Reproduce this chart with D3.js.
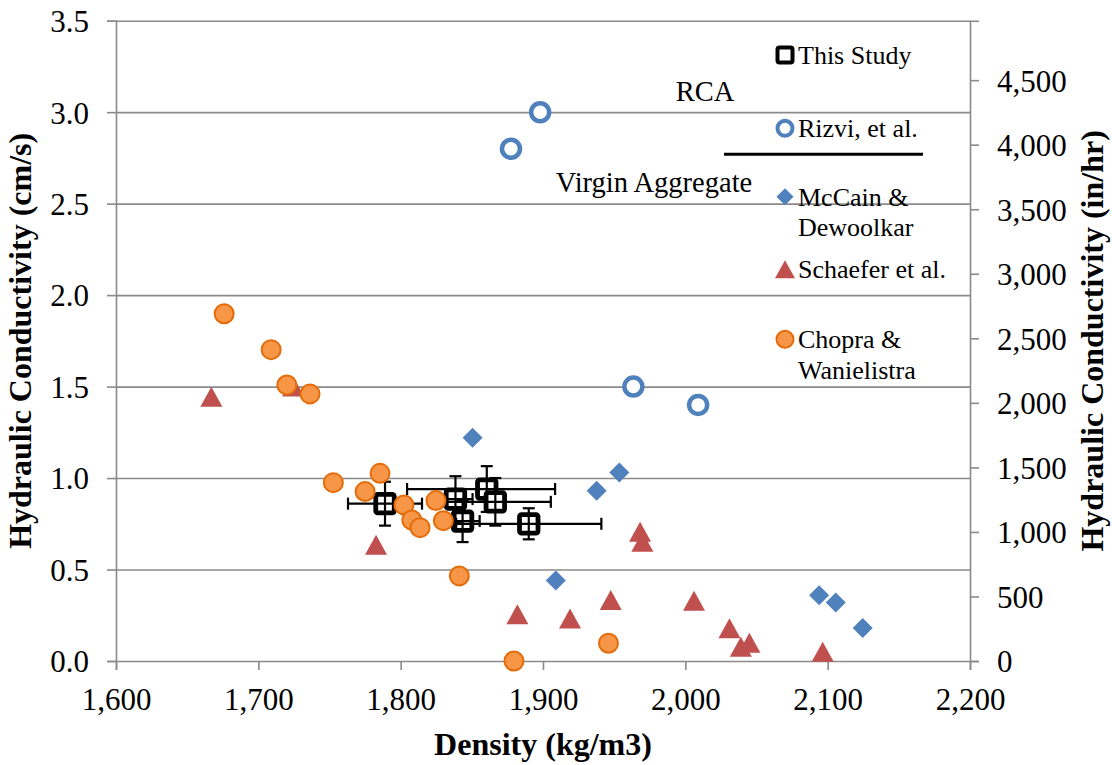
<!DOCTYPE html>
<html><head><meta charset="utf-8">
<script src="https://cdn.jsdelivr.net/npm/d3@7"></script>
<style>
body{margin:0;background:#fff}
text{font-family:"Liberation Serif","Times New Roman",serif;fill:#000}
</style>
</head><body>
<svg id="chart" width="1112" height="765"></svg>
<script>
// ---------- data ----------
const xTicks = [1600, 1700, 1800, 1900, 2000, 2100, 2200];
const yLeftTicks = [0, 0.5, 1.0, 1.5, 2.0, 2.5, 3.0, 3.5];
const yRightTicks = [0, 500, 1000, 1500, 2000, 2500, 3000, 3500, 4000, 4500];

const studyDensity = [1789, 1838.5, 1860.5, 1866.5, 1843.5, 1890];
const studyK       = [0.86, 0.885, 0.94, 0.87, 0.765, 0.75];
const studyXErrMinus = [26, 12, 56, 39, 12, 51];
const studyXErrPlus  = [26, 12, 48, 39, 12, 51];
const studyYErr      = [0.12, 0.125, 0.125, 0.13, 0.115, 0.085];

const rizviDensity = [1877.5, 1898, 1963.5, 2009];
const rizviK       = [2.80, 3.00, 1.50, 1.40];

const mccainDensity = [1850.5, 1937.7, 1953.6, 1909, 2094, 2105.7, 2124.6];
const mccainK       = [1.22, 0.93, 1.03, 0.44, 0.36, 0.32, 0.18];

const schaeferDensity = [1667, 1724.5, 1782.7, 1882, 1919, 1947.6, 1968.2, 1969.8, 2006.1, 2031, 2039, 2045, 2096.5];
const schaeferK       = [1.445, 1.50, 0.635, 0.255, 0.232, 0.334, 0.707, 0.652, 0.330, 0.179, 0.078, 0.10, 0.051];

const chopraDensity = [1676, 1709, 1720, 1736.3, 1752.7, 1785.5, 1775, 1802.3, 1824.8, 1807.8, 1813.6, 1830, 1841.2, 1946, 1879.6];
const chopraK       = [1.898, 1.702, 1.509, 1.46, 0.975, 1.026, 0.926, 0.853, 0.877, 0.771, 0.729, 0.767, 0.465, 0.097, 0.0];

const legendLabels = [["This Study"], ["Rizvi, et al."], ["McCain &", "Dewoolkar"], ["Schaefer et al."], ["Chopra &", "Wanielistra"]];
const CM_S_TO_IN_HR = 1417.32;

// ---------- layout ----------
const svg = d3.select("#chart");
const L = 116, R = 970, T = 20.7, B = 661;
const x = d3.scaleLinear().domain([1600, 2200]).range([L, R]);
const y = d3.scaleLinear().domain([0, 3.5]).range([B, T]);
const yR = d3.scaleLinear().domain([0, 3.5 * CM_S_TO_IN_HR]).range([B, T]);
const GRID = "#8a8a8a";
const SERIF = '"Liberation Serif","Times New Roman",serif';

// gridlines
svg.append("g").attr("transform", `translate(${L},0)`)
  .call(d3.axisLeft(y).tickValues(yLeftTicks.slice(1)).tickSize(-(R - L)).tickFormat(""))
  .call(g => g.select(".domain").remove())
  .call(g => g.selectAll("line").attr("stroke", GRID).attr("stroke-width", 1.6));

// axes
const axL = svg.append("g").attr("transform", `translate(${L},0)`)
  .call(d3.axisLeft(y).tickValues(yLeftTicks).tickSize(9).tickPadding(18).tickFormat(d3.format(".1f")));
const axR = svg.append("g").attr("transform", `translate(${R},0)`)
  .call(d3.axisRight(yR).tickValues(yRightTicks).tickSize(9).tickPadding(18).tickFormat(d3.format(",")));
const axB = svg.append("g").attr("transform", `translate(0,${B})`)
  .call(d3.axisBottom(x).tickValues(xTicks).tickSize(9).tickFormat(d3.format(",")));
[axL, axR, axB].forEach(a => {
  a.attr("font-family", SERIF).attr("font-size", 31);
  a.selectAll(".domain").attr("stroke", GRID).attr("stroke-width", 1.6);
  a.selectAll(".tick line").attr("stroke", GRID).attr("stroke-width", 1.6);
  a.selectAll("text").attr("font-size", 31).attr("fill", "#000").style("font-family", SERIF);
});
axB.selectAll("text").attr("y", 49).attr("dy", 0);
axL.selectAll("text").attr("dy", "0.35em");
axR.selectAll("text").attr("dy", "0.35em");

// ---------- marker helpers ----------
const diamondPath = h => `M0,${-h}L${h},0L0,${h}L${-h},0Z`;
const trianglePath = (w, h) => `M0,${-h / 2}L${w / 2},${h / 2}L${-w / 2},${h / 2}Z`;

function drawSquare(g, cx, cy, s, sw) {
  g.append("rect").attr("x", cx - s / 2).attr("y", cy - s / 2).attr("width", s).attr("height", s)
    .attr("rx", 2).attr("fill", "#fff").attr("stroke", "#000").attr("stroke-width", sw);
}
function drawOpenCircle(g, cx, cy, r, sw) {
  g.append("circle").attr("cx", cx).attr("cy", cy).attr("r", r)
    .attr("fill", "#fff").attr("stroke", "#4F81BD").attr("stroke-width", sw);
}
function drawDiamond(g, cx, cy, h) {
  g.append("path").attr("d", diamondPath(h)).attr("transform", `translate(${cx},${cy})`).attr("fill", "#4F81BD");
}
function drawTriangle(g, cx, cy, w, h) {
  g.append("path").attr("d", trianglePath(w, h)).attr("transform", `translate(${cx},${cy})`).attr("fill", "#C0504D");
}
function drawOrange(g, cx, cy, r) {
  g.append("circle").attr("cx", cx).attr("cy", cy).attr("r", r)
    .attr("fill", "#F79646").attr("stroke", "#E46C0A").attr("stroke-width", 2);
}

// ---------- series ----------
const study = svg.append("g");
studyDensity.forEach((d, i) => drawSquare(study, x(d), y(studyK[i]), 18.5, 4.8));
const err = svg.append("g").attr("stroke", "#000").attr("stroke-width", 2.2);
studyDensity.forEach((d, i) => {
  const cx = x(d), cy = y(studyK[i]);
  const x0 = x(d - studyXErrMinus[i]), x1 = x(d + studyXErrPlus[i]);
  const y0 = y(studyK[i] - studyYErr[i]), y1 = y(studyK[i] + studyYErr[i]);
  err.append("line").attr("x1", x0).attr("x2", x1).attr("y1", cy).attr("y2", cy);
  err.append("line").attr("x1", x0).attr("x2", x0).attr("y1", cy - 6).attr("y2", cy + 6);
  err.append("line").attr("x1", x1).attr("x2", x1).attr("y1", cy - 6).attr("y2", cy + 6);
  err.append("line").attr("x1", cx).attr("x2", cx).attr("y1", y0).attr("y2", y1);
  err.append("line").attr("x1", cx - 6).attr("x2", cx + 6).attr("y1", y0).attr("y2", y0);
  err.append("line").attr("x1", cx - 6).attr("x2", cx + 6).attr("y1", y1).attr("y2", y1);
});
const riz = svg.append("g");
rizviDensity.forEach((d, i) => drawOpenCircle(riz, x(d), y(rizviK[i]), 9, 4.5));
const mc = svg.append("g");
mccainDensity.forEach((d, i) => drawDiamond(mc, x(d), y(mccainK[i]), 10));
const sc = svg.append("g");
schaeferDensity.forEach((d, i) => drawTriangle(sc, x(d), y(schaeferK[i]), 22, 20));
const ch = svg.append("g");
chopraDensity.forEach((d, i) => drawOrange(ch, x(d), y(chopraK[i]), 9.5));

// ---------- legend ----------
const lg = svg.append("g");
const legendMarkerY = [55, 128.3, 196.7, 269.3, 339.3];
const legendMarkers = [
  (cx, cy) => drawSquare(lg, cx, cy, 15, 4),
  (cx, cy) => drawOpenCircle(lg, cx, cy, 7.5, 4),
  (cx, cy) => drawDiamond(lg, cx, cy, 8.5),
  (cx, cy) => drawTriangle(lg, cx, cy, 20, 18),
  (cx, cy) => drawOrange(lg, cx, cy, 8.5)
];
legendLabels.forEach((lines, i) => {
  legendMarkers[i](785, legendMarkerY[i]);
  lines.forEach((t, j) => {
    lg.append("text").attr("x", 798).attr("y", legendMarkerY[i] + 9 + j * 30.7)
      .attr("font-size", 26).text(t);
  });
});

// annotations
svg.append("text").attr("x", 705).attr("y", 101).attr("text-anchor", "middle").attr("font-size", 28.5).text("RCA");
svg.append("text").attr("x", 654).attr("y", 191.5).attr("text-anchor", "middle").attr("font-size", 28.5).text("Virgin Aggregate");
svg.append("line").attr("x1", 724).attr("x2", 923).attr("y1", 154.3).attr("y2", 154.3)
  .attr("stroke", "#000").attr("stroke-width", 3);

// axis titles
svg.append("text").attr("transform", `translate(31,${(T + B) / 2}) rotate(-90)`)
  .attr("text-anchor", "middle").attr("font-size", 32).attr("font-weight", "bold")
  .text("Hydraulic Conductivity (cm/s)");
svg.append("text").attr("transform", `translate(1103,${(T + B) / 2}) rotate(-90)`)
  .attr("text-anchor", "middle").attr("font-size", 32).attr("font-weight", "bold")
  .text("Hydraulic Conductivity (in/hr)");
svg.append("text").attr("x", (L + R) / 2).attr("y", 755).attr("text-anchor", "middle")
  .attr("font-size", 32).attr("font-weight", "bold").text("Density (kg/m3)");
</script>
</body></html>
